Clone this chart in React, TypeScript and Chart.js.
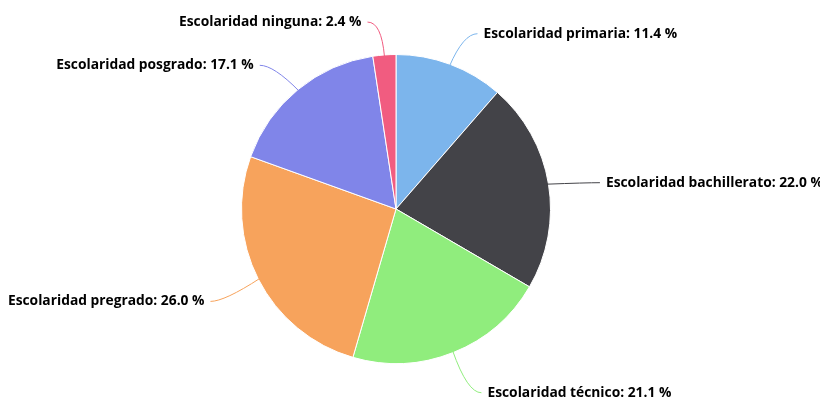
import React, { useEffect, useRef } from "react";
import { Chart, registerables } from "chart.js";

Chart.register(...registerables);

const categories = [
  "Escolaridad primaria",
  "Escolaridad bachillerato",
  "Escolaridad técnico",
  "Escolaridad pregrado",
  "Escolaridad posgrado",
  "Escolaridad ninguna",
];
const values = [11.4, 22.0, 21.1, 26.0, 17.1, 2.4];
const colors = ["#7cb5ec", "#434348", "#90ed7d", "#f7a35c", "#8085e9", "#f15c80"];

const labelPlugin = {
  id: "pieLabels",
  afterDatasetsDraw(chart: any) {
    const ctx = chart.ctx;
    const meta = chart.getDatasetMeta(0);
    const ds = chart.data.datasets[0];
    ctx.save();
    ctx.font = "bold 13.8px 'Open Sans', 'DejaVu Sans', sans-serif";
    ctx.textBaseline = "middle";
    meta.data.forEach((arc: any, i: number) => {
      const { x, y, startAngle, endAngle, outerRadius } = arc.getProps(
        ["x", "y", "startAngle", "endAngle", "outerRadius"],
        true
      );
      const mid = (startAngle + endAngle) / 2;
      const cos = Math.cos(mid);
      const sin = Math.sin(mid);
      const right = cos >= 0;
      const x0 = x + cos * (outerRadius - 2);
      const y0 = y + sin * (outerRadius - 2);
      const d = 38;
      const ax = x + cos * (outerRadius + d);
      const ay = y + sin * (outerRadius + d) + 5;
      const ex = ax + (right ? 14 : -14);
      ctx.strokeStyle = colors[i];
      ctx.lineWidth = 1;
      ctx.beginPath();
      ctx.moveTo(x0, y0);
      ctx.quadraticCurveTo(ax, ay, ex, ay);
      ctx.stroke();
      const text = `${categories[i]}: ${ds.data[i].toFixed(1)} %`;
      ctx.fillStyle = "#000000";
      ctx.textAlign = right ? "left" : "right";
      ctx.fillText(text, ax + (right ? 20 : -20), ay);
    });
    ctx.restore();
  },
};

export default function App() {
  const ref = useRef<HTMLCanvasElement>(null);
  useEffect(() => {
    document.body.style.margin = "0";
    const chart = new Chart(ref.current!, {
      type: "pie",
      data: {
        labels: categories,
        datasets: [
          {
            data: values,
            backgroundColor: colors,
            borderColor: "#ffffff",
            borderWidth: 1,
          },
        ],
      },
      options: {
        responsive: false,
        animation: false,
        layout: { padding: { left: 241, right: 269, top: 54, bottom: 36 } },
        plugins: {
          legend: { display: false },
          tooltip: { enabled: false },
        },
      },
      plugins: [labelPlugin],
    });
    return () => chart.destroy();
  }, []);
  return (
    <div style={{ width: 820, height: 400, background: "#fff" }}>
      <canvas ref={ref} width={820} height={400} />
    </div>
  );
}
